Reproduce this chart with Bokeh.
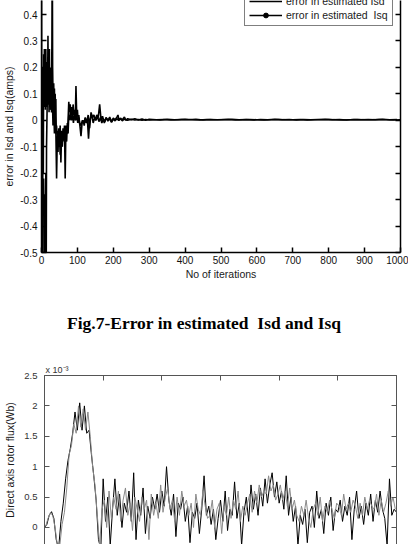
from bokeh.plotting import figure
from bokeh.models import (Range1d, FixedTicker, LinearAxis, Legend, LegendItem,
                          Title, Div, CustomJSTickFormatter, ColumnDataSource,
                          CDSView, IndexFilter)
from bokeh.layouts import column
from bokeh.embed import file_html
from bokeh.resources import INLINE

SANS = "Liberation Sans"
SERIF = "Liberation Serif"

# ---------------- Fig.7 : error in estimated Isd and Isq ----------------
isd_iter = [0, 1, 2, 3, 4, 5, 6, 7, 8, 9, 10, 11, 12, 13, 14,
            16, 18, 20, 22, 24, 26, 28, 30, 32, 34, 36, 38, 40,
            42, 44, 46, 48, 50, 52, 54, 56, 58, 60, 62, 64, 66, 68, 70, 72, 74,
            76, 78, 80, 83, 86, 89, 92, 95, 98, 101, 104, 107, 110, 113, 116, 119,
            122, 125, 128, 131, 134, 137, 140,
            144, 148, 152, 156, 160, 164, 168, 172, 176, 180, 185, 190, 195, 200,
            205, 210, 215, 220, 225, 230,
            240, 250, 260, 270, 280, 290, 300,
            320, 340, 360, 380, 400, 420, 440, 460, 480, 500, 520, 540, 560, 580,
            600, 620, 640, 660, 680, 700, 720, 740, 760, 780, 800, 820, 840, 860,
            880, 900, 920, 940, 960, 980, 1000]
isd_err = [-0.9, -0.2, -0.35, -0.6, -0.25, -0.32, -0.22, -0.36, -0.28, -0.7, -0.3, -0.8, -0.2, -0.65, -0.1,
           0.08, 0.2, 0.06, 0.15, 0.04, 0.12, 0.03, 0.1, -0.02, 0.06, -0.05, 0.02, -0.04,
           -0.22, -0.06, -0.12, -0.03, -0.09, -0.02, -0.16, -0.04, -0.1, -0.03, -0.07, -0.02, -0.22, -0.02, -0.08, -0.01, -0.05,
           0.02, 0.0, 0.03, 0.0, 0.02, -0.01, 0.03, 0.0, 0.02, -0.01, 0.01, -0.02, -0.06, -0.01, 0.0, -0.02,
           0.01, -0.01, 0.0, -0.07, 0.0, 0.01, 0.02,
           -0.01, 0.01, 0.0, 0.015, -0.005, 0.01, -0.01, 0.005, -0.005, 0.01, -0.003, 0.006, -0.008, 0.004,
           -0.002, 0.006, 0.0, 0.005, -0.002, 0.004,
           0.0, 0.004, 0.001, 0.003, 0.0, 0.003, 0.001,
           0.002, 0.003, 0.001, 0.002, 0.004, 0.002, 0.001, 0.003, 0.002, 0.002, 0.003, 0.001, 0.002, 0.003,
           0.002, 0.001, 0.002, 0.003, 0.002, 0.002, 0.003, 0.001, 0.002, 0.002, 0.003, 0.002, 0.001, 0.002,
           0.003, 0.002, 0.002, 0.003, 0.002, 0.001, 0.002]

isq_iter = [0, 1, 2, 3, 4, 5, 6, 7, 8, 9, 10, 11, 12, 13, 14, 15, 16, 17, 18, 19, 20,
            21, 22, 23, 24, 25, 26, 27, 28, 29, 30, 31, 32, 33, 34, 35, 36, 37, 38, 39, 40, 41,
            42, 44, 46, 48, 50, 52, 54, 56, 58, 60, 62, 64, 66, 68, 70, 72, 74,
            76, 78, 80, 82, 84, 86, 88, 90, 92, 94, 96, 98, 100, 102, 104, 106,
            110, 114, 118, 122, 126, 130, 134, 138, 142, 146, 150, 154, 158, 162, 166, 170,
            175, 180, 185, 190, 195, 200, 205, 210, 213, 216, 220, 225, 231, 235, 240,
            250, 260, 270, 280, 290, 300,
            310, 330, 350, 370, 390, 410, 430, 450, 470, 490, 510, 530, 550, 570,
            590, 610, 630, 650, 670, 690, 710, 730, 750, 770, 790, 810, 830, 850,
            870, 890, 910, 930, 950, 970, 990]
isq_err = [0.8, -0.5, 0.1, -0.7, 0.2, -0.2, 0.25, 0.05, 0.27, 0.1, 0.2, 0.04, 0.27, 0.08, 0.22, 0.05, 0.2, 0.1, 0.32, 0.06, 0.2,
           0.03, 0.27, 0.05, 0.15, 0.08, 0.2, 0.04, 0.12, 0.3, 0.7, 0.2, 0.1, 0.04, 0.14, 0.05, 0.12, 0.02, 0.1, 0.05, 0.08, -0.05,
           -0.02, -0.08, -0.04, -0.1, -0.05, -0.13, -0.06, -0.1, -0.05, -0.08, -0.04, -0.06, -0.03, -0.08, -0.03, -0.05, 0.0,
           0.07, 0.03, 0.06, 0.02, 0.05, 0.01, 0.06, 0.02, 0.04, 0.0, 0.13, 0.02, 0.04, 0.0, 0.02, -0.01,
           -0.02, 0.0, -0.01, 0.01, -0.01, 0.02, -0.03, 0.03, 0.01, 0.02, 0.0, 0.02, 0.01, 0.06, 0.0, 0.015,
           -0.01, 0.01, 0.0, 0.012, -0.005, 0.008, 0.002, 0.012, 0.02, 0.0, 0.008, 0.002, 0.012, 0.0, 0.006,
           0.002, 0.006, 0.001, 0.005, 0.0, 0.004,
           0.003, 0.001, 0.004, 0.002, 0.003, 0.002, 0.004, 0.001, 0.003, 0.002, 0.003, 0.004, 0.002, 0.003,
           0.001, 0.003, 0.002, 0.004, 0.002, 0.003, 0.001, 0.003, 0.002, 0.003, 0.004, 0.002, 0.003, 0.001,
           0.003, 0.002, 0.003, 0.002, 0.004, 0.002, 0.003]

fig7_x_ticks = [0, 100, 200, 300, 400, 500, 600, 700, 800, 900, 1000]
fig7_y_ticks = [-0.5, -0.4, -0.3, -0.2, -0.1, 0, 0.1, 0.2, 0.3, 0.4]
fig7_caption = "Fig.7-Error in estimated  Isd and Isq"

# ---------------- Direct axis rotor flux (values in units of 1e-3 Wb) ----------------
flux_black = [0.0, 0.05, 0.2, 0.26, 0.15, -0.2, -0.35, 0.1, 0.4, 0.8,
              1.1, 1.3, 1.55, 1.9, 1.6, 2.05, 1.6, 2.0, 1.55, 1.6,
              1.2, 0.85, 0.45, -0.2, -0.35, 0.8, 0.1, 0.5, -0.3, 0.3,
              0.8, 0.2, 0.55, 0.0, 0.4, 0.25, 0.6, 0.1, 0.9, -0.2,
              0.45, 0.2, 0.65, -0.1, 0.35, 0.15, 0.5, 0.3, 0.55, 0.25,
              0.6, 0.35, 1.0, 0.45, 0.2, 0.55, -0.15, 0.4, 0.3, 0.5,
              0.1, 0.35, -0.25, 0.25, 0.15, 0.4, -0.1, 0.3, 0.85, 0.2,
              0.35, 0.05, 0.3, -0.2, 0.15, 0.45, 0.1, 0.6, -0.05, 0.3,
              0.2, 0.75, 0.15, 0.4, -0.3, 0.25, 0.5, 0.1, 0.7, 0.3,
              0.55, 0.2, 0.65, 0.35, 0.8, 0.4, 0.7, 0.9, 0.5, 0.75,
              0.4, 0.6, 0.3, 0.85, 0.2, 0.5, 0.1, 0.35, -0.3, 0.2,
              0.05, 0.3, -0.25, 0.25, 0.35, 0.0, 0.6, 0.15, 0.3, -0.1,
              0.4, 0.2, 0.5, -0.05, 0.3, 0.25, 0.45, 0.1, 0.35, 0.2,
              0.5, -0.2, 0.3, 0.6, 0.15, 0.35, 0.05, 0.4, 0.2, 0.55,
              0.1, 0.45, 0.25, 0.6, 0.3, 0.15, -0.3, 0.8, 0.2, 0.3,
              0.25]
flux_gray = [0.02, 0.15, 0.24, 0.2, 0.0, -0.3, -0.3, 0.05, 0.25, 0.65,
             1.2, 1.35, 1.7, 1.55, 2.0, 1.65, 1.95, 1.6, 1.9, 1.5,
             1.0, 0.7, 0.2, -0.3, 0.3, 0.45, 0.0, 0.6, 0.15, 0.5,
             0.3, 0.6, 0.1, 0.45, 0.65, 0.2, 0.4, -0.05, 0.5, 0.3,
             0.1, 0.5, 0.3, 0.45, -0.2, 0.55, 0.2, 0.4, 0.15, 0.7,
             0.25, 0.5, 0.65, 0.3, 0.45, 0.1, 0.5, 0.2, 0.6, 0.35,
             0.45, 0.2, 0.4, 0.0, 0.55, 0.3, 0.2, 0.6, 0.35, 0.15,
             0.2, 0.45, 0.0, 0.3, 0.4, -0.1, 0.35, 0.2, 0.5, 0.15,
             0.45, 0.3, 0.6, 0.1, 0.35, 0.2, 0.4, 0.55, 0.25, 0.6,
             0.4, 0.7, 0.5, 0.6, 0.55, 0.85, 0.6, 0.7, 0.45, 0.55,
             0.7, 0.45, 0.6, 0.35, 0.65, 0.3, 0.45, 0.2, 0.1, 0.35,
             0.2, 0.45, 0.15, 0.0, 0.3, 0.4, 0.2, 0.5, 0.1, 0.35,
             0.25, 0.45, 0.3, 0.15, 0.4, 0.35, 0.2, 0.55, 0.3, 0.4,
             0.25, 0.45, 0.35, 0.15, 0.4, 0.2, 0.5, 0.3, 0.45, 0.35,
             0.3, 0.55, 0.2, 0.45, 0.25, 0.4, 0.6, 0.35, 0.5, 0.3]
flux_black_x = list(range(0, 601, 4))   # sample index
flux_gray_x = list(range(2, 599, 4))    # sample index
flux_y_ticks = [0, 0.5, 1, 1.5, 2, 2.5]
flux_x_ticks = [0, 100, 200, 300, 400, 500, 600]
flux_scale_text = "x 10\u207b\u00b3"


def n_pair(a, b):
    n = min(len(a), len(b))
    return a[:n], b[:n]


def style_axis(ax, color="black", lw=1.5, size="10px", label_color="#111111"):
    ax.major_tick_in = 5
    ax.major_tick_out = 0
    ax.minor_tick_line_color = None
    ax.axis_line_color = color
    ax.axis_line_width = lw
    ax.major_tick_line_color = color
    ax.major_tick_line_width = lw
    ax.major_label_text_font = SANS
    ax.major_label_text_font_size = size
    ax.major_label_text_color = label_color
    ax.axis_label_text_font = SANS
    ax.axis_label_text_font_size = "10.5px"
    ax.axis_label_text_font_style = "normal"
    ax.axis_label_text_color = "#1a1a1a"


blank = CustomJSTickFormatter(code="return '';")

# ---- top figure ----
p1 = figure(width=408, height=282, output_backend="svg", toolbar_location=None,
            x_range=Range1d(0, 1000), y_range=Range1d(-0.5, 0.453),
            x_axis_location=None, y_axis_location=None,
            min_border_left=40, min_border_right=8, min_border_top=0, min_border_bottom=30)
p1.frame_align = False
p1.outline_line_color = None
for g in p1.grid:
    g.visible = False

ax_l = LinearAxis(ticker=FixedTicker(ticks=fig7_y_ticks),
                  formatter=CustomJSTickFormatter(code="return Math.abs(tick) < 1e-9 ? '0' : tick.toFixed(1);"),
                  axis_label="error in Isd and Isq(amps)")
style_axis(ax_l)
ax_l.major_label_standoff = 4
ax_l.axis_label_standoff = 2
p1.add_layout(ax_l, "left")

ax_r = LinearAxis(ticker=FixedTicker(ticks=fig7_y_ticks), formatter=blank)
style_axis(ax_r)
ax_r.major_label_standoff = 0
p1.add_layout(ax_r, "right")

ax_b = LinearAxis(ticker=FixedTicker(ticks=fig7_x_ticks), axis_label="No of iterations")
style_axis(ax_b)
ax_b.major_label_standoff = 3
ax_b.axis_label_standoff = 1
p1.add_layout(ax_b, "below")

xd, yd = n_pair(isd_iter, isd_err)
xq, yq = n_pair(isq_iter, isq_err)
src_d = ColumnDataSource(dict(x=xd, y=yd))
src_q = ColumnDataSource(dict(x=xq, y=yq))
l_isd = p1.line("x", "y", source=src_d, line_color="black", line_width=1.6)
l_isq = p1.line("x", "y", source=src_q, line_color="black", line_width=1.6)
# marker style of the Isq series (shown in the legend)
s_isq = p1.scatter("x", "y", source=src_q, view=CDSView(filter=IndexFilter([0])),
                   size=4.5, color="black")

legend = Legend(items=[LegendItem(label="error in estimated Isd", renderers=[l_isd]),
                       LegendItem(label="error in estimated  Isq", renderers=[l_isq, s_isq])],
                location=(203, 226))
legend.border_line_color = "black"
legend.border_line_width = 1
legend.background_fill_color = "white"
legend.background_fill_alpha = 1
legend.label_text_font = SANS
legend.label_text_font_size = "10.5px"
legend.label_text_color = "#1a1a1a"
legend.glyph_width = 33
legend.glyph_height = 12
legend.label_height = 12
legend.label_standoff = 4
legend.spacing = 2
legend.padding = 4
legend.margin = 0
p1.add_layout(legend)

# ---- caption ----
cap = Div(text=fig7_caption, width=408, height=63, margin=0,
          styles={"font-family": SERIF, "font-weight": "bold", "font-size": "17.5px",
                  "text-align": "center", "line-height": "20px", "padding-top": "31px",
                  "box-sizing": "border-box", "white-space": "pre", "color": "black",
                  "width": "408px", "height": "63px"})

# ---- bottom figure ----
p2 = figure(width=408, height=199, output_backend="svg", toolbar_location=None,
            x_range=Range1d(0, 600), y_range=Range1d(-0.28, 2.5),
            x_axis_location=None, y_axis_location=None,
            min_border_left=44, min_border_right=12, min_border_top=30, min_border_bottom=0)
p2.frame_align = False
p2.outline_line_color = None
for g in p2.grid:
    g.visible = False

gray_axis = "#555555"
ax2_l = LinearAxis(ticker=FixedTicker(ticks=flux_y_ticks),
                   formatter=CustomJSTickFormatter(code="return Math.abs(tick - Math.round(tick)) < 1e-9 ? tick.toFixed(0) : tick.toFixed(1);"),
                   axis_label="Direct axis rotor flux(Wb)")
style_axis(ax2_l, color=gray_axis, lw=1, size="9.5px", label_color="#333333")
ax2_l.major_label_standoff = 7
ax2_l.axis_label_standoff = 5
p2.add_layout(ax2_l, "left")

ax2_r = LinearAxis(ticker=FixedTicker(ticks=flux_y_ticks), formatter=blank)
style_axis(ax2_r, color=gray_axis, lw=1)
ax2_r.major_label_standoff = 0
p2.add_layout(ax2_r, "right")

ax2_t = LinearAxis(ticker=FixedTicker(ticks=flux_x_ticks), formatter=blank)
style_axis(ax2_t, color=gray_axis, lw=1)
ax2_t.major_label_standoff = 0
p2.add_layout(ax2_t, "above")

scale_title = Title(text=flux_scale_text, align="left", offset=1, standoff=1,
                    text_font=SANS, text_font_size="9px", text_font_style="normal",
                    text_color="#333333")
p2.add_layout(scale_title, "above")

gx, gy = n_pair(flux_gray_x, flux_gray)
bx, by = n_pair(flux_black_x, flux_black)
p2.line(bx, by, line_color="black", line_width=1)
p2.line(gx, gy, line_color="#8a8a8a", line_width=1)

layout = column(p1, cap, p2, spacing=0)
open("out.html", "w").write(file_html(layout, INLINE))
